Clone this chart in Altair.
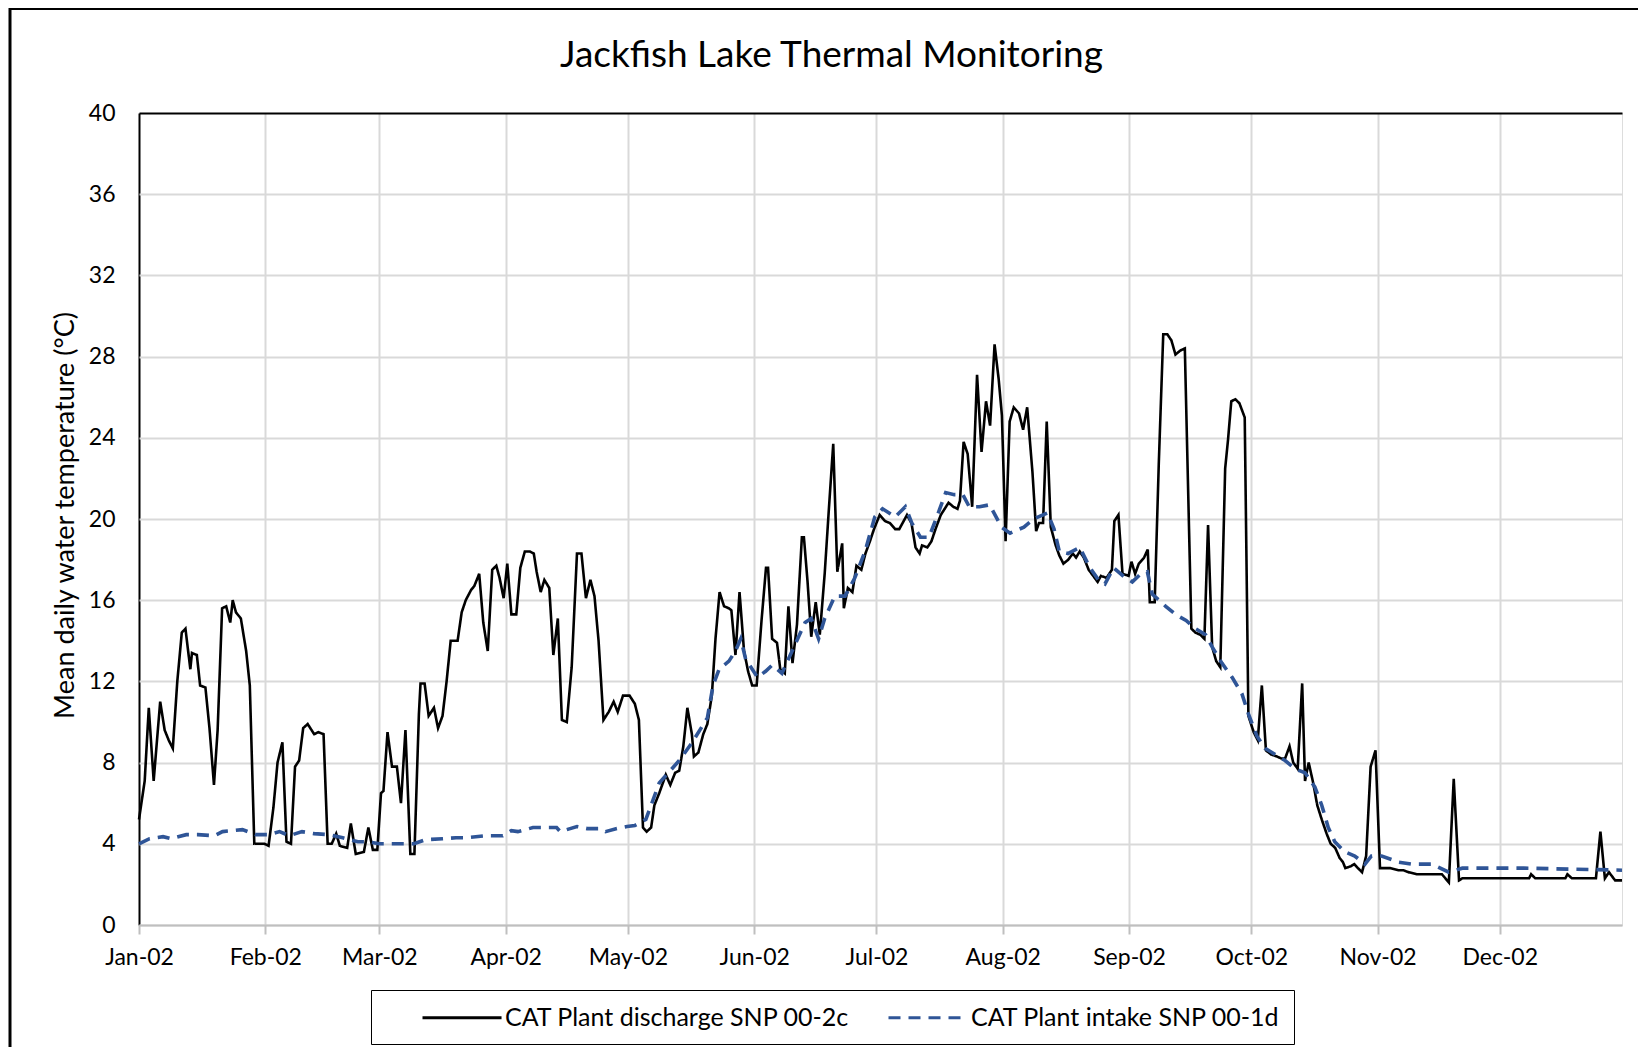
import altair as alt
import pandas as pd

# ---- data (day of year 2002, 0 = Jan 1) ----
discharge_day = [0, 1.4, 2.4, 3.6, 5.2, 6.3, 7.3, 8.3, 9.4, 10.5, 11.4, 12.6, 13, 14.2, 15, 16.3, 17.3, 18.4,
                 19.3, 20.4, 21.4, 22.4, 23, 23.8, 25, 26.3, 27.2, 28.3, 29.5, 30.8, 31.8, 33, 34, 35.2, 36.2,
                 37.3, 38.3, 39.3, 40.3, 41.4, 43, 44, 45.3, 46.3, 47.3, 48.4, 49.3, 51.1, 52, 53.2, 55.2, 56.3,
                 57.4, 58.5, 59.4, 60, 61, 62.1, 63.3, 64.3, 65.4, 66.6, 67.6, 68.7, 69.1, 70.1, 71.1, 72.4, 73.4,
                 74.5, 75.5, 76.5, 78.2, 79.2, 80.2, 81.5, 82.3, 83.5, 84.5, 85.6, 86.7, 87.7, 88.5, 89.5, 90.4,
                 91.4, 92.6, 93.6, 94.7, 95.9, 96.9, 97.6, 98.6, 99.5, 100.7, 101.7, 102.8, 103.8, 105, 106.2,
                 107.5, 108.6, 109.7, 110.8, 111.8, 112.8, 114, 115.3, 116.5, 117.5, 118.8, 120.4, 121.7, 122.7,
                 123.7, 124.6, 125.7, 126.5, 127.7, 129.3, 130.4, 131.6, 132.6, 133.6, 134.6, 135.7, 136.2, 137.3,
                 138.5, 139.5, 140.6, 141.5, 142.5, 143.6, 144.8, 145.4, 146.4, 147.4, 148.5, 149.5, 150.5, 151.6,
                 152.8, 153.9, 154.4, 155.4, 156.6, 157.4, 158.5, 159.4, 160.4, 161.5, 162.7, 163.2, 164.1, 165,
                 166.1, 167.1, 168.3, 169.3, 170.4, 171.4, 172.6, 173, 174, 175.1, 176.1, 177.3, 178.3, 179.4,
                 180.4, 181.8, 183.1, 184.3, 185.6, 186.6, 188.5, 189.6, 190.6, 191.6, 192.2, 193.5, 194.5, 195.5,
                 196.8, 198.7, 199.9, 200.9, 201.5, 202.4, 203.4, 204.5, 205.7, 206.8, 207.9, 208.9, 210, 211,
                 211.8, 212.7, 213.7, 214.7, 216, 217, 218, 219.3, 220.2, 220.9, 221.9, 222.8, 223.8, 225, 225.9,
                 226.9, 228.1, 229.2, 230, 230.9, 231.9, 233.1, 234.2, 235.3, 236.1, 237.5, 238.8, 239.4, 240.4,
                 241.4, 242.9, 243.6, 244.5, 245.4, 246.7, 247.6, 248.1, 249.3, 250.3, 251.4, 252.4, 253.4,
                 254.4, 255.6, 256.7, 258.3, 259.3, 260.5, 261.5, 262.4, 263.4, 264.4, 265.4, 266.6, 267.3,
                 268.1, 269.1, 270.1, 271.4, 272.3, 273.6, 274.6, 275.6, 276.6, 277.9, 279.3, 280.4, 281.3,
                 282.4, 283.3, 284.4, 285.5, 286.2, 287.1, 288.2, 289.2, 290.3, 291.5, 292.5, 293.6, 294.7,
                 295.5, 296.1, 297.5, 298.3, 299.2, 300.2, 301.2, 302.3, 303.5, 304.6, 307.1, 309.1, 310.3,
                 311.6, 313.6, 319.8, 321.5, 322.7, 324, 324.8, 341.2, 341.7, 342.7, 350.1, 350.6, 351.7, 357.6,
                 358.7, 359.8, 360.8, 362.3, 364]
discharge_temp = [5.2, 7.1, 10.7, 7.1, 11.0, 9.6, 9.1, 8.7, 12.0, 14.4, 14.6, 12.6, 13.4, 13.3, 11.8, 11.7, 9.7, 6.9,
                  9.6, 15.6, 15.7, 14.9, 16.0, 15.4, 15.1, 13.5, 11.8, 4.0, 4.0, 4.0, 3.9, 5.8, 8.0, 9.0, 4.1,
                  4.0, 7.8, 8.1, 9.7, 9.9, 9.4, 9.5, 9.4, 4.0, 4.0, 4.5, 3.9, 3.8, 5.0, 3.5, 3.6, 4.8,
                  3.7, 3.7, 6.5, 6.6, 9.5, 7.8, 7.8, 6.0, 9.6, 3.5, 3.5, 10.4, 11.9, 11.9, 10.3, 10.7, 9.7,
                  10.3, 12.0, 14.0, 14.0, 15.4, 16.0, 16.5, 16.7, 17.3, 14.9, 13.5, 17.5, 17.7, 17.1, 16.1, 17.8,
                  15.3, 15.3, 17.6, 18.4, 18.4, 18.3, 17.4, 16.4, 17.0, 16.6, 13.3, 15.1, 10.1, 10.0, 12.7,
                  18.3, 18.3, 16.1, 17.0, 16.2, 14.0, 10.1, 10.5, 11.0, 10.5, 11.3, 11.3, 10.9, 10.1,
                  4.8, 4.6, 4.8, 5.9, 6.5, 7.4, 6.9, 7.5, 7.6, 8.8, 10.7, 9.4, 8.3, 8.5,
                  9.4, 9.9, 11.3, 14.1, 16.4, 15.7, 15.6, 15.5, 13.3, 16.4, 13.5, 12.5, 11.8, 11.8,
                  15.0, 17.6, 17.6, 14.1, 13.9, 12.6, 12.4, 15.7, 12.9, 14.8, 19.1, 19.1, 16.9, 14.2,
                  15.9, 14.3, 17.3, 20.4, 23.7, 17.4, 18.8, 15.6, 16.6, 16.4, 17.7, 17.5, 18.3, 18.9,
                  19.5, 20.2, 19.9, 19.8, 19.5, 19.5, 20.2, 19.8, 18.6, 18.3, 18.7, 18.6, 18.9, 19.5,
                  20.2, 20.8, 20.6, 20.5, 20.9, 23.8, 23.2, 20.6, 27.1, 23.3, 25.8, 24.6, 28.6, 26.9,
                  25.1, 18.9, 24.8, 25.5, 25.2, 24.4, 25.5, 22.3, 19.4, 19.8, 19.8, 24.8, 19.6, 18.7, 18.2,
                  17.8, 18.0, 18.3, 18.1, 18.4, 18.1, 17.5, 17.2, 16.9, 17.2, 17.1, 17.5, 19.9, 20.2,
                  17.3, 17.2, 17.9, 17.3, 17.8, 18.1, 18.5, 15.9, 15.9, 22.7, 29.1, 29.1, 28.8,
                  28.1, 28.3, 28.4, 14.6, 14.4, 14.3, 14.1, 19.7, 13.7, 13.0, 12.7, 22.5, 23.9,
                  25.8, 25.9, 25.7, 25.0, 10.3, 9.5, 9.1, 11.8, 8.6, 8.4, 8.3, 8.2, 8.2,
                  8.8, 8.0, 7.7, 11.9, 7.1, 8.0, 7.0, 5.9, 5.2, 4.5, 4.0, 3.8, 3.3,
                  3.1, 2.8, 2.9, 3.0, 2.8, 2.6, 3.4, 7.8, 8.6, 2.8, 2.8, 2.7, 2.7,
                  2.6, 2.5, 2.5, 2.1, 7.2, 2.2, 2.3, 2.3, 2.5, 2.3, 2.3, 2.5, 2.3, 2.3,
                  4.6, 2.3, 2.6, 2.2, 2.2]

intake_day = [0, 2.6, 5.9, 7.9, 11.6, 14.4, 18.5, 20.5, 25.4, 28.7, 32, 34.5, 36.9, 40, 43, 46.7, 50, 53.7, 56,
              59, 63, 67.5, 70.3, 74.5, 77.8, 80.2, 85.2, 89.3, 91.4, 93, 96.7, 99.2, 102.5, 103.4, 107.5, 110,
              113.2, 114.5, 117.3, 119.8, 121.7, 124.4, 127.7, 132.6, 135.8, 139.5, 140.9, 142.4, 144.8, 146.4,
              147.7, 148.9, 151.8, 153.8, 155.4, 157.8, 160.3, 163.5, 165, 166.8, 168.3, 170.8, 173.3, 175.7,
              178.2, 180.6, 182.5, 185.6, 188.1, 189.7, 191.8, 193.9, 196, 198, 200.1, 202.2, 203.8, 206.3,
              208.8, 211.7, 213.8, 217.2, 219.6, 223, 224.6, 225.9, 228, 230.9, 233.4, 235.5, 237.1, 239.2,
              242.1, 243.8, 245.9, 247.5, 248.7, 252, 254.4, 257, 259.3, 261.8, 263.4, 265.8, 268.3, 270.7,
              272.3, 274.4, 276.4, 278.9, 281.3, 283.7, 286.2, 288.6, 290.3, 291.9, 293.5, 296, 298.4, 300.9,
              302.5, 305, 309.1, 312.4, 317.3, 321.5, 324.8, 340, 364]
intake_temp = [4.0, 4.25, 4.35, 4.25, 4.45, 4.45, 4.4, 4.6, 4.7, 4.45, 4.45, 4.6, 4.4, 4.6, 4.5, 4.45, 4.3, 4.1, 4.1,
               4.0, 4.0, 4.0, 4.2, 4.25, 4.3, 4.3, 4.4, 4.4, 4.65, 4.6, 4.8, 4.8, 4.8, 4.6, 4.85, 4.75,
               4.75, 4.6, 4.75, 4.85, 4.9, 5.2, 7.0, 8.1, 9.0, 10.2, 11.8, 12.6, 13.0, 13.5,
               14.1, 13.1, 12.2, 12.5, 12.8, 12.4, 13.5, 14.9, 15.1, 14.1, 15.1, 16.2, 16.2, 17.1,
               18.4, 20.1, 20.5, 20.1, 20.6, 19.8, 19.1, 19.1, 20.2, 21.3, 21.2, 21.2, 20.6, 20.6,
               20.7, 19.6, 19.3, 19.6, 20.0, 20.3, 19.5, 18.4, 18.3, 18.6, 17.6, 17.0, 16.8, 17.6,
               17.1, 16.9, 17.3, 17.4, 16.3, 15.7, 15.3, 15.0, 14.6, 14.3, 13.7, 12.9, 12.2, 11.4,
               10.4, 9.3, 8.7, 8.4, 8.1, 7.7, 7.5, 6.8, 5.9, 4.8, 4.1, 3.6, 3.4, 3.0,
               3.4, 3.4, 3.1, 3.0, 3.0, 2.6, 2.8, 2.8, 2.7]

series_names = ["CAT Plant discharge SNP 00-2c", "CAT Plant intake SNP 00-1d"]
series_colors = ["#000000", "#2F5597"]
month_ticks = [alt.DateTime(year=2002, month=m, date=1) for m in range(1, 13)]
y_ticks = list(range(0, 41, 4))

start = pd.Timestamp("2002-01-01")


def to_dates(days):
    return [(start + pd.Timedelta(days=d)).strftime("%Y-%m-%dT%H:%M:%S") for d in days]


df = pd.DataFrame({
    "date": to_dates(discharge_day) + to_dates(intake_day),
    "temp": discharge_temp + intake_temp,
    "series": [series_names[0]] * len(discharge_day) + [series_names[1]] * len(intake_day),
    "ord": list(range(len(discharge_day))) + list(range(len(intake_day))),
})

FONT = "Lato"
W, H = 1483, 812

legend = alt.Legend(
    title=None, orient="none", legendX=232, legendY=877, direction="horizontal",
    symbolType="M-1,0H5.08", symbolSize=676, symbolStrokeWidth=3, symbolOffset=37,
    labelFont=FONT, labelFontSize=25, labelColor="black", labelOffset=55, labelLimit=600,
    strokeColor="black", padding=13, columnPadding=0,
)

x_enc = alt.X(
    "date:T",
    scale=alt.Scale(domain=[alt.DateTime(year=2002, month=1, date=1),
                            alt.DateTime(year=2002, month=12, date=31)]),
    axis=alt.Axis(
        values=month_ticks, format="%b-%y", title=None, labelFont=FONT, labelFontSize=23,
        labelColor="black", labelAngle=0, labelFlush=False, labelOverlap=False, labelPadding=12,
        tickColor="#bfbfbf", tickSize=9, tickWidth=2, domainColor="#bfbfbf", domainWidth=2,
        gridColor=alt.condition("datum.index == 0", alt.value("black"), alt.value("#d9d9d9")),
        gridWidth=2,
    ),
)
y_enc = alt.Y(
    "temp:Q",
    scale=alt.Scale(domain=[0, 40], nice=False),
    axis=alt.Axis(
        values=y_ticks, title="Mean daily water temperature (°C)", labelFont=FONT, labelFontSize=23,
        labelColor="black", labelPadding=24, ticks=False, domain=False,
        gridColor=alt.condition("datum.value == 40", alt.value("black"), alt.value("#d9d9d9")),
        gridWidth=2,
        titleFont=FONT, titleFontSize=27, titleFontWeight="normal", titleColor="black",
        titleAngle=270, titleX=-74, titleY=402, titleAlign="center", titleBaseline="middle",
    ),
)
color_enc = alt.Color("series:N", scale=alt.Scale(domain=series_names, range=series_colors), legend=legend)
dash_enc = alt.StrokeDash("series:N", scale=alt.Scale(domain=series_names, range=[[1, 0], [12, 8]]), legend=legend)

base = alt.Chart(df)
discharge = base.transform_filter(alt.datum.series == series_names[0]).mark_line(
    strokeWidth=2.6, interpolate="linear"
).encode(x=x_enc, y=y_enc, color=color_enc, strokeDash=dash_enc, order="ord:Q")
intake = base.transform_filter(alt.datum.series == series_names[1]).mark_line(
    strokeWidth=3.6, interpolate="linear"
).encode(x=x_enc, y=y_enc, color=color_enc, strokeDash=dash_enc, order="ord:Q")

frame = alt.Chart(pd.DataFrame({"f": [0]})).mark_rect(
    filled=False, stroke="black", strokeWidth=3, clip=False
).encode(x=alt.value(-129), x2=alt.value(W + 200), y=alt.value(-104.5), y2=alt.value(H + 300))

chart = alt.layer(frame, discharge, intake).properties(
    width=W, height=H,
    autosize=alt.AutoSizeParams(type="none"),
    padding={"left": 131, "top": 105, "right": 16, "bottom": 122},
    title=alt.TitleParams(
        "Jackfish Lake Thermal Monitoring", font=FONT, fontSize=37, fontWeight="normal",
        color="black", anchor="middle", frame="group", dx=-49, dy=97, offset=0, baseline="alphabetic",
    ),
).configure_view(stroke="black", strokeWidth=2.5).configure_legend(strokeWidth=3).configure(background="white")

chart.save("out.html", embed_options={"renderer": "svg", "actions": False})
